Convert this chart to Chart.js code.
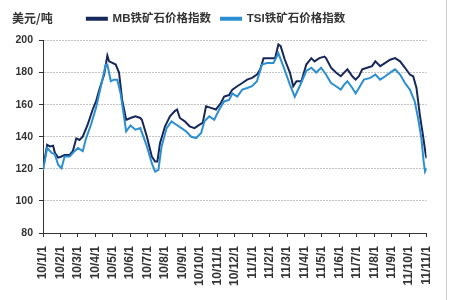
<!DOCTYPE html>
<html>
<head>
<meta charset="utf-8">
<script src="https://cdn.jsdelivr.net/npm/chart.js@4"></script>
<style>
  body { margin: 0; background: #fff; }
  #wrap { position: relative; width: 450px; height: 300px; }
  #wrap:after { content: ''; position: absolute; left: 446px; top: 0; width: 1px; height: 300px; background: #d0d0d0; }
  #unit { position: absolute; left: 12px; top: 9px; font: bold 12px 'Noto Sans CJK SC', sans-serif; color: #333; }
</style>
</head>
<body>
<div id="wrap">
  <canvas id="chart-ore" width="450" height="300"></canvas>
  <div id="unit">美元/吨</div>
</div>
<script>
// Data -------------------------------------
// --> x positions are month indexes counted from 10/1/1

const month_labels = ['10/1/1', '10/2/1', '10/3/1', '10/4/1', '10/5/1', '10/6/1', '10/7/1', '10/8/1',
    '10/9/1', '10/10/1', '10/11/1', '10/12/1', '11/1/1', '11/2/1', '11/3/1', '11/4/1', '11/5/1',
    '11/6/1', '11/7/1', '11/8/1', '11/9/1', '11/10/1', '11/11/1']

const mb_x = [0, 0.24, 0.40, 0.58, 0.68, 0.87, 1.06, 1.24, 1.53, 1.71, 1.91, 2.09, 2.28, 2.56, 2.85,
    3.04, 3.22, 3.51, 3.69, 3.79, 3.98, 4.17, 4.36, 4.54, 4.77, 5.02, 5.30, 5.58, 5.67, 5.96, 6.24,
    6.43, 6.56, 6.71, 7.00, 7.28, 7.56, 7.69, 7.85, 8.13, 8.41, 8.69, 8.98, 9.16, 9.35, 9.63, 9.92,
    10.20, 10.39, 10.67, 10.86, 11.14, 11.43, 11.71, 11.99, 12.27, 12.46, 12.65, 12.94, 13.31, 13.50,
    13.63, 13.87, 14.16, 14.35, 14.54, 14.82, 15.10, 15.39, 15.57, 15.85, 16.14, 16.23, 16.52, 16.80,
    17.08, 17.27, 17.46, 17.74, 17.93, 18.12, 18.31, 18.59, 18.87, 19.06, 19.34, 19.63, 19.91, 20.19,
    20.48, 20.76, 21.04, 21.23, 21.42, 21.61, 21.79, 21.95, 22]
const mb_y = [120, 135, 134, 134.4, 130, 127, 127.7, 128.7, 128.7, 131, 139, 138, 140, 147.5, 157,
    162, 169, 179, 190.6, 187, 186, 185, 180, 163, 150.6, 151.7, 152.7, 151.7, 150.6, 140, 127.7,
    124.6, 124.6, 136, 146.5, 152.7, 156, 157, 151.7, 149.6, 146.5, 145.4, 147.5, 148.6, 159, 158, 157,
    161, 165, 166, 169.4, 171.5, 173.5, 175.6, 176.7, 178.8, 182, 189, 189, 189, 197.5,
    196.5, 188, 180, 171.5, 174.6, 174.6, 185, 189, 187, 189, 190, 189, 183, 180,
    177.7, 180, 182, 177.7, 175.6, 177.7, 182, 183, 184, 187, 184, 186, 188, 189,
    187, 183, 178.8, 177.7, 170.4, 153.8, 141, 128.7, 126.6]

const tsi_x = [0, 0.24, 0.49, 0.68, 0.87, 1.06, 1.24, 1.53, 1.81, 2.00, 2.28, 2.47, 2.75, 3.04, 3.32,
    3.60, 3.69, 3.89, 4.07, 4.26, 4.45, 4.77, 5.02, 5.30, 5.58, 5.96, 6.24, 6.43, 6.62, 6.80, 7.09,
    7.37, 7.65, 7.94, 8.22, 8.50, 8.78, 9.07, 9.26, 9.54, 9.82, 10.11, 10.39, 10.67, 10.86, 11.14,
    11.43, 11.71, 11.99, 12.27, 12.56, 12.84, 13.22, 13.50, 13.78, 14.16, 14.44, 14.72, 15.10, 15.39,
    15.67, 15.95, 16.23, 16.52, 16.80, 17.08, 17.27, 17.46, 17.74, 17.93, 18.12, 18.40, 18.78, 19.06,
    19.34, 19.63, 19.91, 20.19, 20.48, 20.76, 21.04, 21.32, 21.51, 21.70, 21.83, 21.91, 22]
const tsi_y = [119, 133, 130, 129, 122.5, 120.4, 127.7, 127.7, 131, 133, 131, 139, 147.5, 158, 171.5,
    185, 185, 174.6, 175.6, 175.6, 167, 143.3, 147, 144.4, 145.4, 134, 123.5, 118.3, 119.4, 134, 145.4,
    149.6, 147.5, 145.4, 143.3, 140, 139.2, 142.3, 149.6, 152.7, 150.6, 157, 162, 163, 167, 165,
    169.4, 170.4, 171.5, 174.6, 185, 186, 186, 192, 184, 172.5, 165, 171.5, 181, 183,
    180, 183, 178.8, 173.5, 171.5, 169.4, 172.5, 174.6, 170.4, 167, 170.4, 175.6, 176.7, 178.8,
    175.6, 177.7, 180, 182, 178.8, 173.5, 169.4, 162, 151.7, 139, 124.6, 118.3, 120.4]

const color_mb = '#16275a'
const color_tsi = '#2b8fd2'
const color_text = '#333333'
const font_family = "'Liberation Sans', 'Noto Sans CJK SC', sans-serif"

// Helpers -------------------------------------

function toPoints(xs, ys) {
    return xs.map(function (x, i) { return { x: x, y: ys[i] } })
}

// adds some space below the legend
const legendGap = {
    id: 'legendGap',
    beforeInit: function (chart) {
        const fitLegend = chart.legend.fit
        chart.legend.fit = function () {
            fitLegend.bind(chart.legend)()
            this.height += 6
        }
    },
}

// Chart generation -------------------------------------

const data = {
    datasets: [{
            label: 'MB铁矿石价格指数',
            data: toPoints(mb_x, mb_y),
            borderColor: color_mb,
            backgroundColor: color_mb,
            borderWidth: 2,
            pointRadius: 0,
            tension: 0,
            order: 1,
        },
        {
            label: 'TSI铁矿石价格指数',
            data: toPoints(tsi_x, tsi_y),
            borderColor: color_tsi,
            backgroundColor: color_tsi,
            borderWidth: 2,
            pointRadius: 0,
            tension: 0,
            order: 0, // drawn on top of MB
        },
    ]
}

const config = {
    type: 'line',
    data: data,
    plugins: [legendGap],
    options: {
        responsive: false,
        animation: false,
        layout: {
            padding: { top: 3, right: 18, left: 0, bottom: 0 },
        },
        plugins: {
            legend: {
                display: true,
                position: 'top',
                labels: {
                    boxWidth: 20,
                    boxHeight: 2,
                    padding: 10,
                    color: color_text,
                    font: { family: font_family, size: 11.5, weight: 'bold' },
                    sort: function (a, b) { return a.datasetIndex - b.datasetIndex },
                },
            },
            tooltip: { enabled: false },
        },
        scales: {
            x: {
                type: 'linear',
                min: 0,
                max: 22,
                afterFit: function (scale) { scale.height = 67 },
                ticks: {
                    stepSize: 1,
                    autoSkip: false,
                    maxRotation: 90,
                    minRotation: 90,
                    padding: 9,
                    color: color_text,
                    font: { family: font_family, size: 12, weight: 'bold' },
                    callback: function (value) { return month_labels[value] },
                },
                grid: {
                    drawOnChartArea: false,
                    drawTicks: true,
                    tickLength: 4,
                    tickColor: color_text,
                },
                border: { color: color_text, width: 1 },
            },
            y: {
                min: 80,
                max: 200,
                afterFit: function (scale) { scale.width = 43 },
                ticks: {
                    stepSize: 20,
                    padding: 6,
                    color: color_text,
                    font: { family: font_family, size: 10.5, weight: 'bold' },
                },
                grid: {
                    color: '#c4c4c4',
                    tickLength: 4,
                    tickColor: color_text,
                    tickBorderDash: [],
                },
                border: { color: color_text, width: 1, dash: [2, 1] },
            },
        },
    }
}

const context = document.getElementById('chart-ore').getContext('2d')
const chart = new Chart(context, config)
</script>
</body>
</html>
